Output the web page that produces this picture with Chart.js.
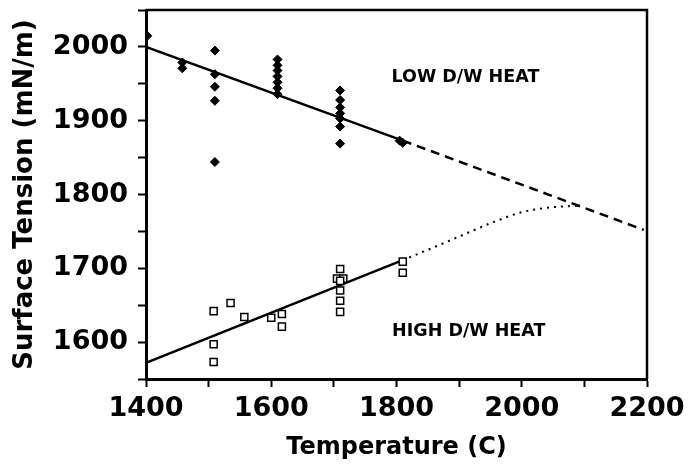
<!DOCTYPE html>
<html>
<head>
<meta charset="utf-8">
<script src="https://cdn.jsdelivr.net/npm/chart.js@4/dist/chart.umd.min.js"></script>
<style>
  html, body { margin: 0; padding: 0; background: #fff; }
  #grafico { display: block; }
</style>
</head>
<body>
<canvas id="grafico" width="690" height="467"></canvas>
<script>
// puntos medidos, LOW D/W HEAT (rombos)
const lowTemp = [1402, 1458, 1458, 1510, 1510, 1510, 1510, 1510,
  1610, 1610, 1610, 1610, 1610, 1610, 1610,
  1710, 1710, 1710, 1710, 1710, 1710, 1710, 1805, 1810];
const lowTension = [2015, 1979, 1971, 1995, 1963, 1946, 1927, 1844,
  1983, 1975, 1968, 1960, 1952, 1944, 1936,
  1941, 1928, 1918, 1910, 1903, 1892, 1869, 1873, 1870];

// puntos medidos, HIGH D/W HEAT (cuadrados)
const highTemp = [1508, 1508, 1508, 1535, 1557, 1600, 1617, 1617,
  1710, 1705, 1715, 1710, 1710, 1710, 1710, 1810, 1810];
const highTension = [1642, 1597, 1573, 1653, 1634, 1633, 1638, 1621,
  1699, 1686, 1686, 1683, 1670, 1656, 1641, 1709, 1694];

// rectas de ajuste y extrapolaciones
const lowFitTemp = [1400, 1810];
const lowFitTension = [2000, 1873];
const lowExtTemp = [1810, 2195];
const lowExtTension = [1873, 1752];
const highFitTemp = [1400, 1810];
const highFitTension = [1572, 1711];
const highExtTemp = [1810, 1850, 1900, 1950, 2000, 2040, 2070, 2090];
const highExtTension = [1711, 1725, 1743, 1761, 1776, 1782, 1784, 1785];

// ejes
const xMin = 1400, xMax = 2200, xStep = 100;
const yMin = 1550, yMax = 2050, yStep = 50;

const pares = (xs, ys) => xs.map((x, i) => ({x: x, y: ys[i]}));

const fuente = "'DejaVu Sans', sans-serif";

const marco = {
  id: 'marco',
  afterDraw(chart) {
    const ctx = chart.ctx;
    const a = chart.chartArea;
    ctx.save();
    // marco superior y derecho
    ctx.strokeStyle = '#000';
    ctx.lineWidth = 2.5;
    ctx.beginPath();
    ctx.moveTo(a.left, a.top);
    ctx.lineTo(a.right, a.top);
    ctx.lineTo(a.right, a.bottom);
    ctx.stroke();
    // etiquetas
    const sx = chart.scales.x, sy = chart.scales.y;
    ctx.fillStyle = '#000';
    ctx.textBaseline = 'middle';
    ctx.textAlign = 'left';
    ctx.font = "bold 17.5px " + fuente;
    ctx.fillText('LOW D/W HEAT', sx.getPixelForValue(1792), sy.getPixelForValue(1958));
    ctx.fillText('HIGH D/W HEAT', sx.getPixelForValue(1793), sy.getPixelForValue(1614));
    ctx.restore();
  }
};

const ctx = document.getElementById("grafico").getContext("2d");
new Chart(ctx, {
  type: "scatter",
  data: {
    datasets: [
      {
        label: "LOW",
        data: pares(lowTemp, lowTension),
        pointStyle: 'rectRot',
        pointRadius: 4.5,
        backgroundColor: '#000',
        borderColor: '#000',
        borderWidth: 1,
        showLine: false
      },
      {
        label: "HIGH",
        data: pares(highTemp, highTension),
        pointStyle: 'rect',
        pointRadius: 5,
        backgroundColor: '#fff',
        borderColor: '#000',
        borderWidth: 1.5,
        showLine: false
      },
      {
        data: pares(lowFitTemp, lowFitTension),
        showLine: true, pointRadius: 0,
        borderColor: '#000', borderWidth: 2.5
      },
      {
        data: pares(lowExtTemp, lowExtTension),
        showLine: true, pointRadius: 0,
        borderColor: '#000', borderWidth: 2.5, borderDash: [9, 6]
      },
      {
        data: pares(highFitTemp, highFitTension),
        showLine: true, pointRadius: 0,
        borderColor: '#000', borderWidth: 2.5
      },
      {
        data: pares(highExtTemp, highExtTension),
        showLine: true, pointRadius: 0,
        borderColor: '#000', borderWidth: 2, borderDash: [2, 5],
        cubicInterpolationMode: 'monotone'
      }
    ]
  },
  options: {
    responsive: false,
    animation: false,
    devicePixelRatio: 1,
    layout: { padding: { top: 10, right: 43, left: 0, bottom: 0 } },
    plugins: {
      legend: { display: false },
      tooltip: { enabled: false }
    },
    scales: {
      x: {
        type: 'linear',
        min: xMin, max: xMax,
        afterFit: s => {
          s.height = 88;
          s.paddingLeft = 0;
          s.paddingRight = 0;
        },
        ticks: {
          stepSize: xStep,
          autoSkip: false,
          maxRotation: 0,
          padding: 6,
          color: '#000',
          font: { family: fuente, size: 27, weight: 'bold' },
          callback: v => (v % 200 === 0 ? String(v) : '')
        },
        grid: { drawOnChartArea: false, tickLength: 8, tickWidth: 2, color: '#000' },
        border: { display: true, color: '#000', width: 3 },
        title: {
          display: true,
          text: 'Temperature (C)',
          color: '#000',
          font: { family: fuente, size: 24, weight: 'bold' },
          padding: { top: 0, bottom: 5 }
        }
      },
      y: {
        type: 'linear',
        min: yMin, max: yMax,
        afterFit: s => {
          s.width = 146;
          s.paddingTop = 0;
          s.paddingBottom = 0;
        },
        ticks: {
          stepSize: yStep,
          autoSkip: false,
          padding: 10,
          color: '#000',
          font: { family: fuente, size: 27, weight: 'bold' },
          callback: v => (v % 100 === 0 ? String(v) : '')
        },
        grid: { drawOnChartArea: false, tickLength: 8, tickWidth: 2, color: '#000' },
        border: { display: true, color: '#000', width: 3 },
        title: {
          display: true,
          text: 'Surface Tension (mN/m)',
          color: '#000',
          font: { family: fuente, size: 26, weight: 'bold' },
          padding: { top: 10, bottom: 0 }
        }
      }
    }
  },
  plugins: [marco]
});
</script>
</body>
</html>
